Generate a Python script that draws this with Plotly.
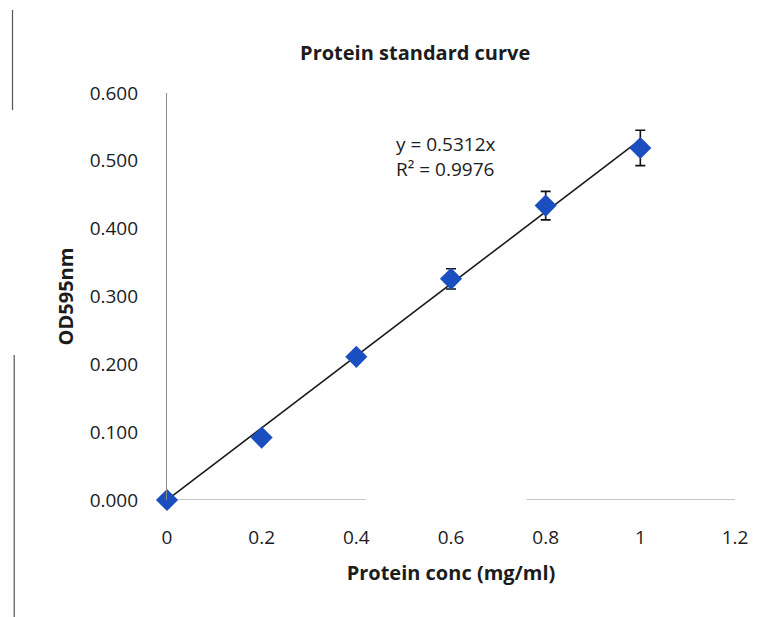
import plotly.graph_objects as go

# Protein standard (Bradford-type assay) readings
conc_mg_ml = [0, 0.2, 0.4, 0.6, 0.8, 1.0]
od595 = [0.000, 0.092, 0.211, 0.326, 0.434, 0.519]
od595_err = [0.0, 0.0, 0.006, 0.015, 0.021, 0.026]

slope = 0.5312
r_squared = 0.9976
fit_x = [0, 1.0]
fit_y = [slope * x for x in fit_x]

x_ticks = [0, 0.2, 0.4, 0.6, 0.8, 1.0, 1.2]
x_tick_text = ["0", "0.2", "0.4", "0.6", "0.8", "1", "1.2"]
y_ticks = [0.0, 0.1, 0.2, 0.3, 0.4, 0.5, 0.6]
y_tick_text = ["0.000", "0.100", "0.200", "0.300", "0.400", "0.500", "0.600"]

FONT = "'Open Sans', Lato, sans-serif"
TXT = "#1c1c1c"
TICK_SIZE = 19
TITLE_SIZE = 20

fig = go.Figure()

# linear trendline through the origin
fig.add_trace(go.Scatter(
    x=fit_x, y=fit_y, mode="lines",
    line=dict(color="#1a1a1a", width=1.6),
    hoverinfo="skip", showlegend=False, cliponaxis=False,
))

# measured points with error bars
fig.add_trace(go.Scatter(
    x=conc_mg_ml, y=od595, mode="markers",
    marker=dict(symbol="diamond", size=17, color="#1b4fbf",
                line=dict(width=0)),
    error_y=dict(type="data", array=od595_err, visible=True,
                 color="#111111", thickness=1.6, width=5),
    showlegend=False, cliponaxis=False,
))

# trendline equation label
fig.add_annotation(
    x=0.70, y=0.507, xref="x", yref="y", xanchor="right", yanchor="middle",
    showarrow=False,
    text=f"y = {slope}x<br>R² = {r_squared}",
    font=dict(family=FONT, size=TICK_SIZE, color=TXT), align="left",
)

axis_gray = "#8a8a8a"
fig.update_layout(
    width=766, height=617,
    margin=dict(l=167, r=31, t=93, b=117),
    paper_bgcolor="white", plot_bgcolor="white",
    font=dict(family=FONT, size=TICK_SIZE, color=TXT),
    title=dict(text="<b>Protein standard curve</b>", x=0.542, xanchor="center",
               y=0.914, yanchor="middle",
               font=dict(family=FONT, size=TITLE_SIZE, color=TXT)),
    xaxis=dict(range=[0, 1.2], tickvals=x_ticks, ticktext=x_tick_text,
               showgrid=False, zeroline=False, showline=False,
               ticks="", ticklabelstandoff=24,
               tickfont=dict(family=FONT, size=TICK_SIZE, color=TXT),
               title=dict(text="<b>Protein conc (mg/ml)</b>", standoff=16,
                          font=dict(family=FONT, size=TITLE_SIZE, color=TXT))),
    yaxis=dict(range=[0, 0.6], tickvals=y_ticks, ticktext=y_tick_text,
               showgrid=False, zeroline=False, showline=True,
               linecolor=axis_gray, linewidth=1.2, ticks="",
               ticklabelstandoff=24,
               tickfont=dict(family=FONT, size=TICK_SIZE, color=TXT),
               title=dict(text="<b>OD595nm</b>", standoff=10,
                          font=dict(family=FONT, size=TITLE_SIZE, color=TXT))),
)

# horizontal axis line, broken across the middle
for x0, x1 in [(0, 0.42), (0.76, 1.2)]:
    fig.add_shape(type="line", xref="x", yref="y", x0=x0, x1=x1, y0=0, y1=0,
                  line=dict(color=axis_gray, width=1.2), layer="below")

# page-border strokes on the left edge
fig.add_shape(type="line", xref="paper", yref="paper",
              x0=-0.272, x1=-0.272, y0=1.204, y1=0.958,
              line=dict(color="#555555", width=1.2))
fig.add_shape(type="line", xref="paper", yref="paper",
              x0=-0.269, x1=-0.269, y0=0.356, y1=-0.29,
              line=dict(color="#555555", width=1.2))

fig.write_html("out.html")
